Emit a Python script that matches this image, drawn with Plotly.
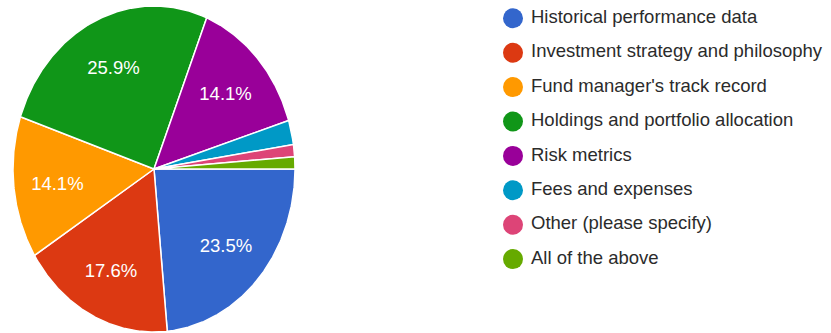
import numpy as np
import plotly.graph_objects as go

# Survey answers and their share of responses (%)
categories = [
    "Historical performance data",
    "Investment strategy and philosophy",
    "Fund manager's track record",
    "Holdings and portfolio allocation",
    "Risk metrics",
    "Fees and expenses",
    "Other (please specify)",
    "All of the above",
]
shares = [23.5, 17.6, 14.1, 25.9, 14.1, 2.4, 1.2, 1.2]
colors = ["#3366cc", "#dc3912", "#ff9900", "#109618",
          "#990099", "#0099c6", "#dd4477", "#66aa00"]

W, H = 831, 333
CX, CY = 154, 169      # pie centre in px
RX, RY = 141, 163      # horizontal / vertical radius in px
FONT = "Liberation Sans, Arial, sans-serif"

fig = go.Figure()

# Slices drawn clockwise from 3 o'clock on a unit circle
total = sum(shares)
start = 0.0
label_x, label_y, label_t = [], [], []
for name, val, col in zip(categories, shares, colors):
    sweep = 2 * np.pi * val / total
    n = max(int(np.degrees(sweep)) * 2, 4)
    th = np.linspace(-start, -(start + sweep), n)
    xs = np.concatenate([[0], np.cos(th), [0]])
    ys = np.concatenate([[0], np.sin(th), [0]])
    fig.add_trace(go.Scatter(
        x=xs, y=ys, mode="lines", fill="toself", fillcolor=col,
        line=dict(color="white", width=1.5), name=name,
        hoverinfo="name", showlegend=False, xaxis="x", yaxis="y"))
    if val >= 5:
        mid = -(start + sweep / 2)
        label_x.append(0.69 * np.cos(mid))
        label_y.append(0.69 * np.sin(mid) - 3 / RY)
        label_t.append(f"{val:.1f}%")
    start += sweep

fig.add_trace(go.Scatter(
    x=label_x, y=label_y, text=label_t, mode="text",
    textposition="middle center",
    textfont=dict(family=FONT, size=18.5, color="white"),
    hoverinfo="skip", showlegend=False, xaxis="x", yaxis="y"))

# Legend: coloured dots with labels, in a pixel-unit overlay axis
rows = np.arange(len(categories))
row_y = 18.3 + rows * 34.4
fig.add_trace(go.Scatter(
    x=[513] * len(categories), y=row_y, mode="markers",
    marker=dict(size=20, color=colors, line=dict(width=0)),
    hoverinfo="skip", showlegend=False, xaxis="x2", yaxis="y2"))
fig.add_trace(go.Scatter(
    x=[531] * len(categories), y=row_y, text=categories, mode="text",
    textposition="middle right",
    textfont=dict(family=FONT, size=18.5, color="#2b2b2b"),
    hoverinfo="skip", showlegend=False, xaxis="x2", yaxis="y2"))

hidden = dict(visible=False, showgrid=False, zeroline=False, fixedrange=True)
fig.update_layout(
    width=W, height=H,
    margin=dict(l=0, r=0, t=0, b=0),
    paper_bgcolor="white", plot_bgcolor="white",
    xaxis=dict(range=[-CX / RX, (W - CX) / RX], domain=[0, 1], **hidden),
    yaxis=dict(range=[-(H - CY) / RY, CY / RY], domain=[0, 1], **hidden),
    xaxis2=dict(range=[0, W], domain=[0, 1], overlaying="x", anchor="y2", **hidden),
    yaxis2=dict(range=[H, 0], domain=[0, 1], overlaying="y", anchor="x2", **hidden),
    showlegend=False,
)

fig.write_html("out.html")
